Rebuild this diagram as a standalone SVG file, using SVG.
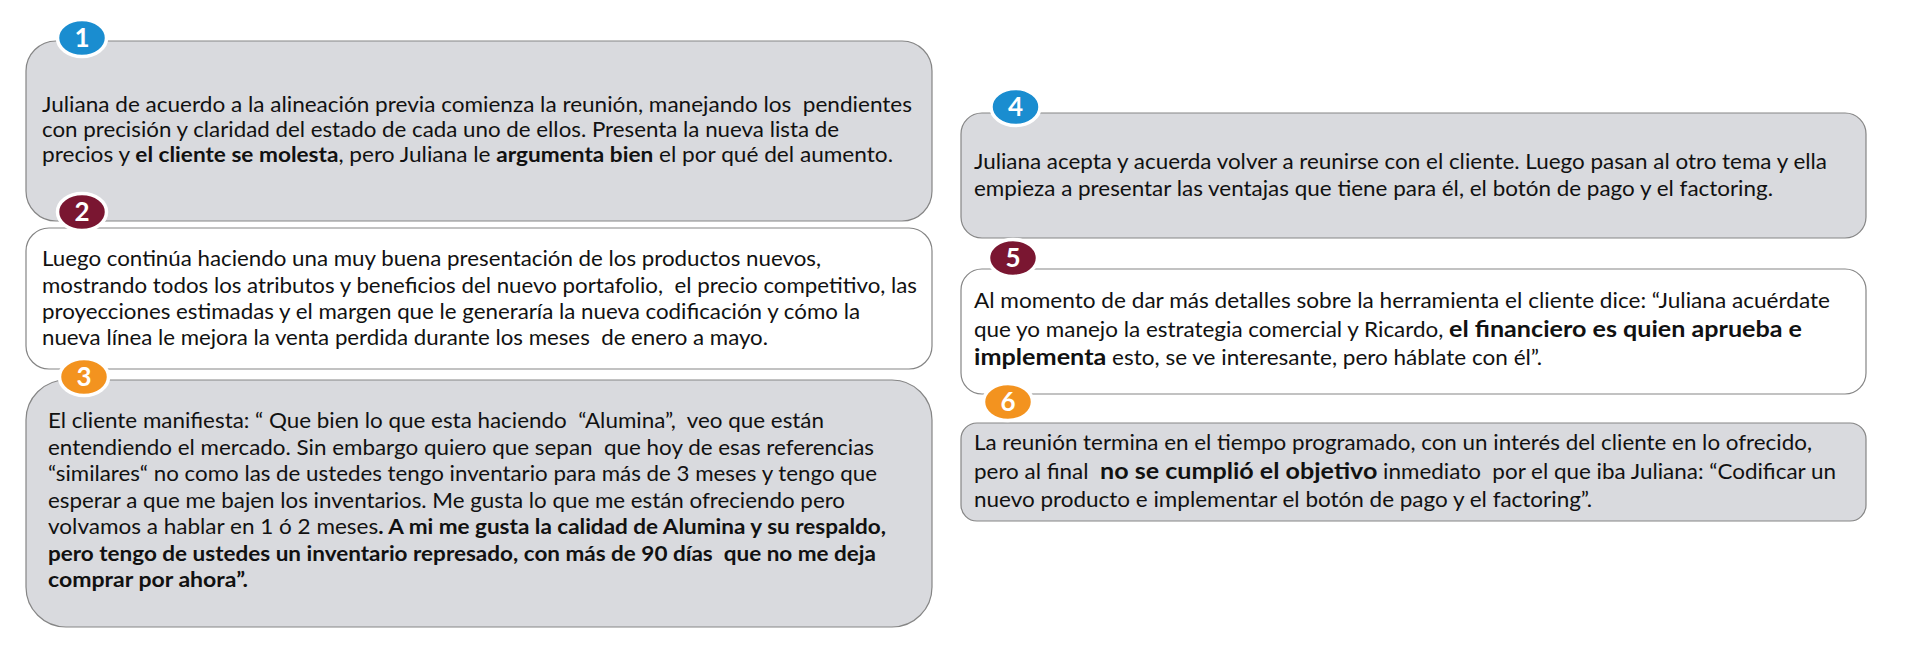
<svg xmlns="http://www.w3.org/2000/svg" width="1919" height="667" viewBox="0 0 1919 667">
<style>
.gray{fill:#D9DADE;stroke:#858585;stroke-width:1.2}
.white{fill:#FFFFFF;stroke:#858585;stroke-width:1.2}
.blue{fill:#1A8DD0;stroke:#FFFFFF;stroke-width:3.5}
.maroon{fill:#7A1631;stroke:#FFFFFF;stroke-width:3.5}
.orange{fill:#F3931F;stroke:#FFFFFF;stroke-width:3.5}
.num{font-family:Lato,"Open Sans",sans-serif;font-weight:bold;font-size:26px;fill:#FFFFFF;text-anchor:middle}
.t{font-family:Lato,"Liberation Sans",sans-serif;font-size:21px;fill:#111111;white-space:pre}
.b{font-weight:bold}
.bb{font-weight:bold;font-size:23.5px}
</style>
<rect width="1919" height="667" fill="#FFFFFF"/>
<g id="connectors"/>
<g id="node1">
<rect class="gray" x="26" y="41" width="906" height="180" rx="30" ry="30"/>
<ellipse class="blue" cx="82" cy="38" rx="24.5" ry="18.5"/>
<text class="num" x="82" y="47">1</text>
<text class="t" x="42" y="112" textLength="870" lengthAdjust="spacingAndGlyphs">Juliana de acuerdo a la alineación previa comienza la reunión, manejando los  pendientes</text>
<text class="t" x="42" y="137" textLength="797" lengthAdjust="spacingAndGlyphs">con precisión y claridad del estado de cada uno de ellos. Presenta la nueva lista de</text>
<text class="t" x="42" y="162" textLength="851" lengthAdjust="spacingAndGlyphs">precios y <tspan class="b">el cliente se molesta</tspan>, pero Juliana le <tspan class="b">argumenta bien</tspan> el por qué del aumento.</text>
</g>
<g id="node2">
<rect class="white" x="26" y="228" width="906" height="141" rx="23" ry="23"/>
<ellipse class="maroon" cx="82" cy="212" rx="24.5" ry="18.5"/>
<text class="num" x="82" y="221">2</text>
<text class="t" x="42" y="266" textLength="779" lengthAdjust="spacingAndGlyphs">Luego continúa haciendo una muy buena presentación de los productos nuevos,</text>
<text class="t" x="42" y="292.5" textLength="875" lengthAdjust="spacingAndGlyphs">mostrando todos los atributos y beneficios del nuevo portafolio,  el precio competitivo, las</text>
<text class="t" x="42" y="319" textLength="818" lengthAdjust="spacingAndGlyphs">proyecciones estimadas y el margen que le generaría la nueva codificación y cómo la</text>
<text class="t" x="42" y="345" textLength="726" lengthAdjust="spacingAndGlyphs">nueva línea le mejora la venta perdida durante los meses  de enero a mayo.</text>
</g>
<g id="node3">
<rect class="gray" x="26" y="380" width="906" height="247" rx="40" ry="40"/>
<ellipse class="orange" cx="84" cy="377" rx="24.5" ry="18.5"/>
<text class="num" x="84" y="386">3</text>
<text class="t" x="48" y="428" textLength="776" lengthAdjust="spacingAndGlyphs">El cliente manifiesta: “ Que bien lo que esta haciendo  “Alumina”,  veo que están</text>
<text class="t" x="48" y="454.5" textLength="826" lengthAdjust="spacingAndGlyphs">entendiendo el mercado. Sin embargo quiero que sepan  que hoy de esas referencias</text>
<text class="t" x="48" y="481" textLength="829" lengthAdjust="spacingAndGlyphs">“similares“ no como las de ustedes tengo inventario para más de 3 meses y tengo que</text>
<text class="t" x="48" y="507.5" textLength="797" lengthAdjust="spacingAndGlyphs">esperar a que me bajen los inventarios. Me gusta lo que me están ofreciendo pero</text>
<text class="t" x="48" y="534" textLength="838" lengthAdjust="spacingAndGlyphs">volvamos a hablar en 1 ó 2 meses<tspan class="b">. A mi me gusta la calidad de Alumina y su respaldo,</tspan></text>
<text class="t b" x="48" y="560.5" textLength="828" lengthAdjust="spacingAndGlyphs">pero tengo de ustedes un inventario represado, con más de 90 días  que no me deja</text>
<text class="t b" x="48" y="587" textLength="200" lengthAdjust="spacingAndGlyphs">comprar por ahora”.</text>
</g>
<g id="node4">
<rect class="gray" x="961" y="113" width="905" height="125" rx="21" ry="21"/>
<ellipse class="blue" cx="1015.5" cy="107" rx="24.5" ry="18.5"/>
<text class="num" x="1015.5" y="116">4</text>
<text class="t" x="974" y="169" textLength="853" lengthAdjust="spacingAndGlyphs">Juliana acepta y acuerda volver a reunirse con el cliente. Luego pasan al otro tema y ella</text>
<text class="t" x="974" y="195.5" textLength="799" lengthAdjust="spacingAndGlyphs">empieza a presentar las ventajas que tiene para él, el botón de pago y el factoring.</text>
</g>
<g id="node5">
<rect class="white" x="961" y="269" width="905" height="125" rx="21" ry="21"/>
<ellipse class="maroon" cx="1013" cy="258" rx="24.5" ry="18.5"/>
<text class="num" x="1013" y="267">5</text>
<text class="t" x="974" y="308" textLength="856" lengthAdjust="spacingAndGlyphs">Al momento de dar más detalles sobre la herramienta el cliente dice: “Juliana acuérdate</text>
<text class="t" x="974" y="337" textLength="828" lengthAdjust="spacingAndGlyphs">que yo manejo la estrategia comercial y Ricardo, <tspan class="bb">el financiero es quien aprueba e</tspan></text>
<text class="t" x="974" y="365" textLength="568" lengthAdjust="spacingAndGlyphs"><tspan class="bb">implementa</tspan> esto, se ve interesante, pero háblate con él”.</text>
</g>
<g id="node6">
<rect class="gray" x="961" y="423" width="905" height="98" rx="16" ry="16"/>
<ellipse class="orange" cx="1008" cy="402" rx="24.5" ry="18.5"/>
<text class="num" x="1008" y="411">6</text>
<text class="t" x="974" y="450" textLength="838" lengthAdjust="spacingAndGlyphs">La reunión termina en el tiempo programado, con un interés del cliente en lo ofrecido,</text>
<text class="t" x="974" y="479" textLength="862" lengthAdjust="spacingAndGlyphs">pero al final  <tspan class="bb">no se cumplió el objetivo</tspan> inmediato  por el que iba Juliana: “Codificar un</text>
<text class="t" x="974" y="507" textLength="618" lengthAdjust="spacingAndGlyphs">nuevo producto e implementar el botón de pago y el factoring”.</text>
</g>
</svg>
